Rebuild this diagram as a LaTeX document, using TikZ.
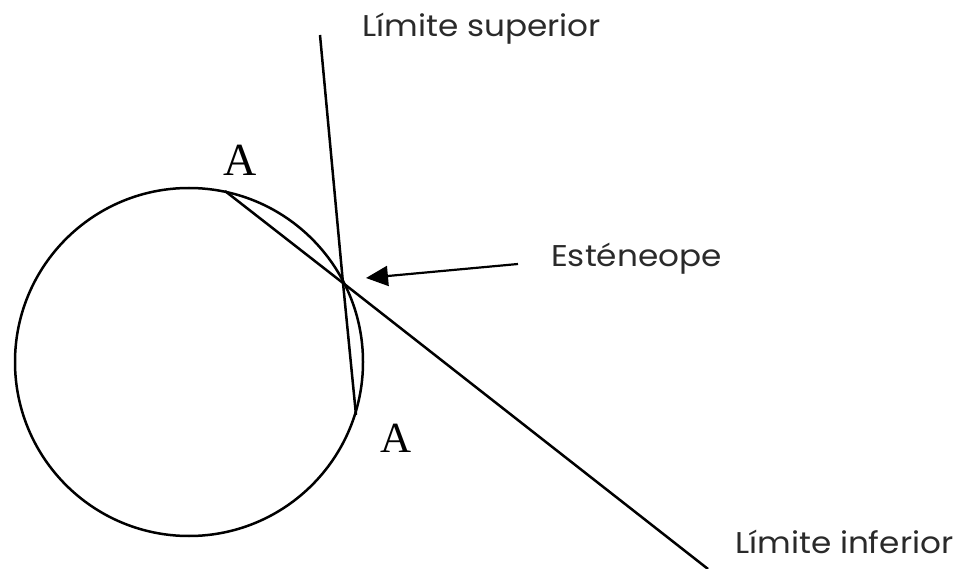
\documentclass[tikz,border=0pt]{standalone}
\usepackage{fontspec}
\newfontfamily\labfont{Poppins}[FakeStretch=1.09]
\newfontfamily\afont{Liberation Serif}
\usetikzlibrary{arrows.meta}
\definecolor{labgray}{HTML}{2A2A2A}
\tikzset{
  geo/.style={line width=2.5pt, black},
  lab/.style={font=\labfont\fontsize{30}{36}\selectfont, text=labgray, inner sep=0pt, anchor=base west},
  alab/.style={font=\afont\fontsize{46}{50}\selectfont, inner sep=0pt, anchor=base west},
}
\begin{document}
\begin{tikzpicture}[x=1pt,y=-1pt]
\useasboundingbox (0,0) rectangle (961,569);
\coordinate (C) at (189,362);
\coordinate (A1) at (225,191);
\coordinate (P) at (343,283);
\coordinate (A2) at (356,415);
\coordinate (Top) at (320,35);
\coordinate (Bot) at (708,569);
\coordinate (ArrS) at (518,264);
\coordinate (ArrT) at (366,278);
\draw[geo] (C) circle[radius=174];
\draw[geo] (A1) -- (P) -- (Bot);
\draw[geo] (Top) -- (P) -- (A2);
\draw[line width=2.2pt, -{Triangle[length=22pt,width=20pt]}] (ArrS) -- (ArrT);
\node[lab] (sup) at (362,37) {Límite superior};
\node[lab] (est) at (551,267) {Esténeope};
\node[lab] (inf) at (735,553) {Límite inferior};
\node[alab] (a1) at (223,176) {A};
\node[alab, font=\afont\fontsize{43}{48}\selectfont] (a2) at (380,452) {A};
\end{tikzpicture}
\end{document}
